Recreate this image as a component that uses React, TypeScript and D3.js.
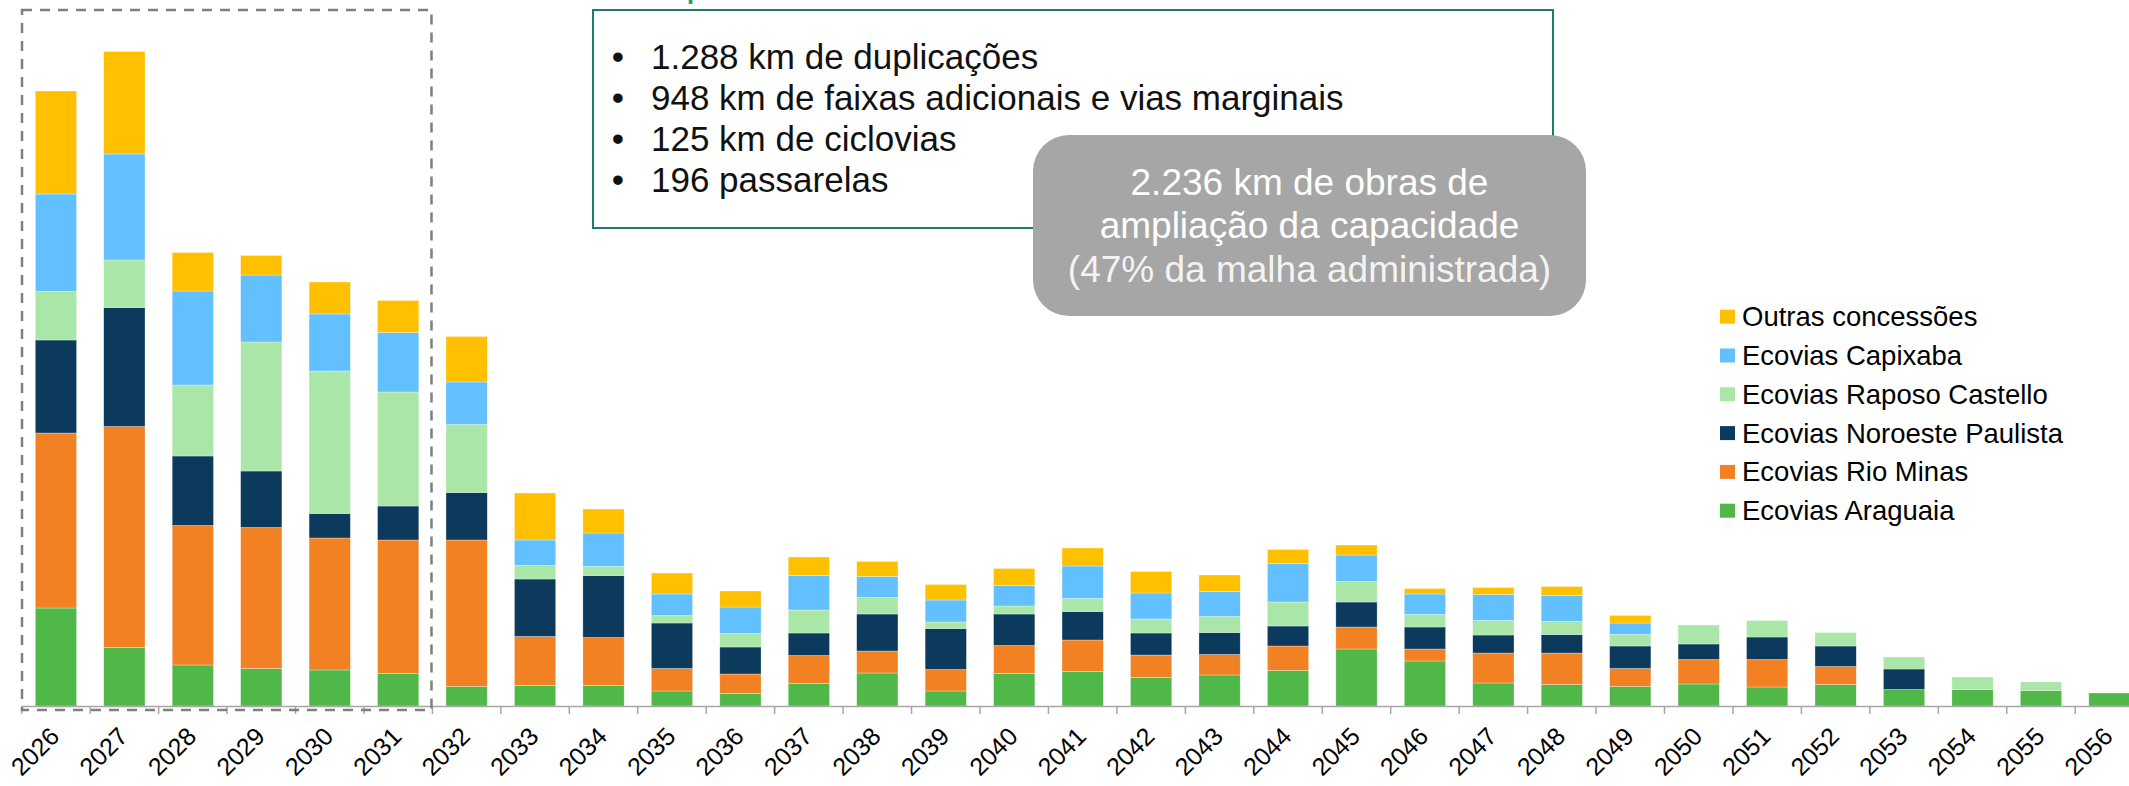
import React, { useRef, useEffect } from "react";
import * as d3 from "d3";

// years on the x axis
const years = [
  "2026", "2027", "2028", "2029", "2030", "2031", "2032", "2033", "2034", "2035", "2036",
  "2037", "2038", "2039", "2040", "2041", "2042", "2043", "2044", "2045", "2046", "2047",
  "2048", "2049", "2050", "2051", "2052", "2053", "2054", "2055", "2056",
];

// series values, bottom of the stack first
const araguaia = [196, 117, 82, 75, 72, 65, 39, 41, 41, 30, 25, 45, 66, 30, 65, 69, 57, 62, 71, 114, 90, 46, 43, 39, 44, 38, 43, 33, 33, 31, 26];
const rioMinas = [350, 442, 279, 282, 264, 267, 293, 98, 96, 45, 39, 56, 44, 43, 56, 63, 45, 41, 49, 44, 24, 60, 63, 36, 49, 55, 36, 0, 0, 0, 0];
const noroeste = [186, 238, 139, 113, 49, 68, 95, 115, 124, 91, 54, 45, 74, 82, 63, 57, 44, 44, 40, 50, 44, 36, 37, 45, 31, 45, 41, 41, 0, 0, 0];
const raposo = [97, 95, 142, 258, 285, 228, 136, 27, 18, 15, 27, 46, 33, 13, 16, 26, 28, 32, 48, 41, 25, 29, 26, 23, 38, 33, 27, 24, 25, 17, 0];
const capixaba = [195, 212, 188, 134, 114, 119, 85, 51, 67, 43, 53, 69, 42, 44, 41, 65, 52, 50, 77, 53, 41, 52, 52, 23, 0, 0, 0, 0, 0, 0, 0];
const outras = [206, 205, 77, 39, 64, 64, 91, 94, 48, 42, 32, 37, 30, 31, 34, 36, 43, 33, 28, 20, 11, 14, 18, 15, 0, 0, 0, 0, 0, 0, 0];

const seriesNames = [
  "Ecovias Araguaia",
  "Ecovias Rio Minas",
  "Ecovias Noroeste Paulista",
  "Ecovias Raposo Castello",
  "Ecovias Capixaba",
  "Outras concessões",
];
const seriesValues = [araguaia, rioMinas, noroeste, raposo, capixaba, outras];
const seriesColors = ["#50B848", "#F28123", "#0B3A5D", "#ABE6A9", "#63C0FF", "#FFC000"];

const bulletLines = [
  "1.288 km de duplicações",
  "948 km de faixas adicionais e vias marginais",
  "125 km de ciclovias",
  "196 passarelas",
];
const bubbleLines = [
  "2.236 km de obras de",
  "ampliação da capacidade",
  "(47% da malha administrada)",
];

const W = 2129;
const H = 786;
const FONT = "'Liberation Sans', Arial, Helvetica, sans-serif";

const App = () => {
  const svgRef = useRef(null);

  useEffect(() => {
    const svg = d3.select(svgRef.current);
    svg.selectAll("*").remove();

    const baseY = 706;
    const x = d3
      .scaleBand()
      .domain(years)
      .range([21.7, 21.7 + 68.45 * years.length]);
    const y = d3.scaleLinear().domain([0, 1412]).range([baseY, 0]);

    const rows = years.map((yr, i) => {
      const r: any = { year: yr };
      seriesNames.forEach((s, k) => (r[s] = seriesValues[k][i]));
      return r;
    });
    const stacked = d3.stack().keys(seriesNames)(rows);
    const barW = x.bandwidth() * 0.603;
    const barOff = (x.bandwidth() - barW) / 2;

    // stacked bars
    svg
      .append("g")
      .selectAll("g")
      .data(stacked)
      .enter()
      .append("g")
      .attr("fill", (d, i) => seriesColors[i])
      .selectAll("rect")
      .data((d) => d)
      .enter()
      .append("rect")
      .attr("x", (d: any) => x(d.data.year) + barOff)
      .attr("width", barW)
      .attr("y", (d) => y(d[1]))
      .attr("height", (d) => y(d[0]) - y(d[1]))
      .attr("stroke", "#ffffff")
      .attr("stroke-opacity", 0.5)
      .attr("stroke-width", 0.6);

    // x axis line and ticks at band edges
    const axis = svg.append("g");
    axis
      .append("line")
      .attr("x1", 21)
      .attr("x2", W)
      .attr("y1", baseY + 0.5)
      .attr("y2", baseY + 0.5)
      .attr("stroke", "#A6A6A6")
      .attr("stroke-width", 1.5);
    axis
      .selectAll(".tick")
      .data(years)
      .enter()
      .append("line")
      .attr("x1", (d) => x(d))
      .attr("x2", (d) => x(d))
      .attr("y1", baseY)
      .attr("y2", baseY + 8)
      .attr("stroke", "#A6A6A6")
      .attr("stroke-width", 1.5);
    axis
      .selectAll("text")
      .data(years)
      .enter()
      .append("text")
      .attr(
        "transform",
        (d) => `translate(${x(d) + x.bandwidth() / 2 + 5},${baseY + 32}) rotate(-45)`
      )
      .attr("text-anchor", "end")
      .attr("font-family", FONT)
      .attr("font-size", 25)
      .attr("fill", "#000")
      .text((d) => d);

    // dashed box around the first six years
    svg
      .append("rect")
      .attr("x", 22)
      .attr("y", 10)
      .attr("width", 409.5)
      .attr("height", 700)
      .attr("fill", "none")
      .attr("stroke", "#7F7F7F")
      .attr("stroke-width", 2.5)
      .attr("stroke-dasharray", "10,8");

    // cut-off title fragment at the top
    svg
      .append("text")
      .attr("x", 686)
      .attr("y", -4)
      .attr("font-family", FONT)
      .attr("font-size", 40)
      .attr("fill", "#1E9B78")
      .text("p");

    // bullet box
    svg
      .append("rect")
      .attr("x", 593)
      .attr("y", 10)
      .attr("width", 960)
      .attr("height", 218)
      .attr("fill", "#fff")
      .attr("stroke", "#1E7B74")
      .attr("stroke-width", 2);
    const bl = svg.append("g").attr("font-family", FONT).attr("font-size", 35).attr("fill", "#111");
    bulletLines.forEach((t, i) => {
      const by = 68.5 + i * 41.3;
      bl.append("text").attr("x", 618).attr("y", by).attr("text-anchor", "middle").text("•");
      bl.append("text").attr("x", 651).attr("y", by).text(t);
    });

    // grey bubble
    svg
      .append("rect")
      .attr("x", 1033)
      .attr("y", 135)
      .attr("width", 553)
      .attr("height", 181)
      .attr("rx", 36)
      .attr("fill", "#A6A6A6");
    const bb = svg
      .append("g")
      .attr("font-family", FONT)
      .attr("font-size", 37)
      .attr("fill", "#fff")
      .attr("text-anchor", "middle");
    bubbleLines.forEach((t, i) => {
      bb.append("text")
        .attr("x", 1309.5)
        .attr("y", 195 + i * 43.4)
        .attr("fill-opacity", i === 2 ? 0.9 : 1)
        .text(t);
    });

    // legend, top entry is the top of the stack
    const lg = svg.append("g").attr("font-family", FONT).attr("font-size", 27.5);
    const order = seriesNames.map((s, i) => i).reverse();
    order.forEach((k, j) => {
      const cy = 316.7 + j * 38.8;
      lg.append("rect")
        .attr("x", 1720)
        .attr("y", cy - 7)
        .attr("width", 15)
        .attr("height", 14)
        .attr("fill", seriesColors[k]);
      lg.append("text")
        .attr("x", 1742)
        .attr("y", cy + 9.5)
        .attr("fill", "#000")
        .text(seriesNames[k]);
    });
  }, []);

  return (
    <svg
      ref={svgRef}
      width={W}
      height={H}
      style={{ position: "absolute", left: 0, top: 0, background: "#fff" }}
    />
  );
};

export default App;
